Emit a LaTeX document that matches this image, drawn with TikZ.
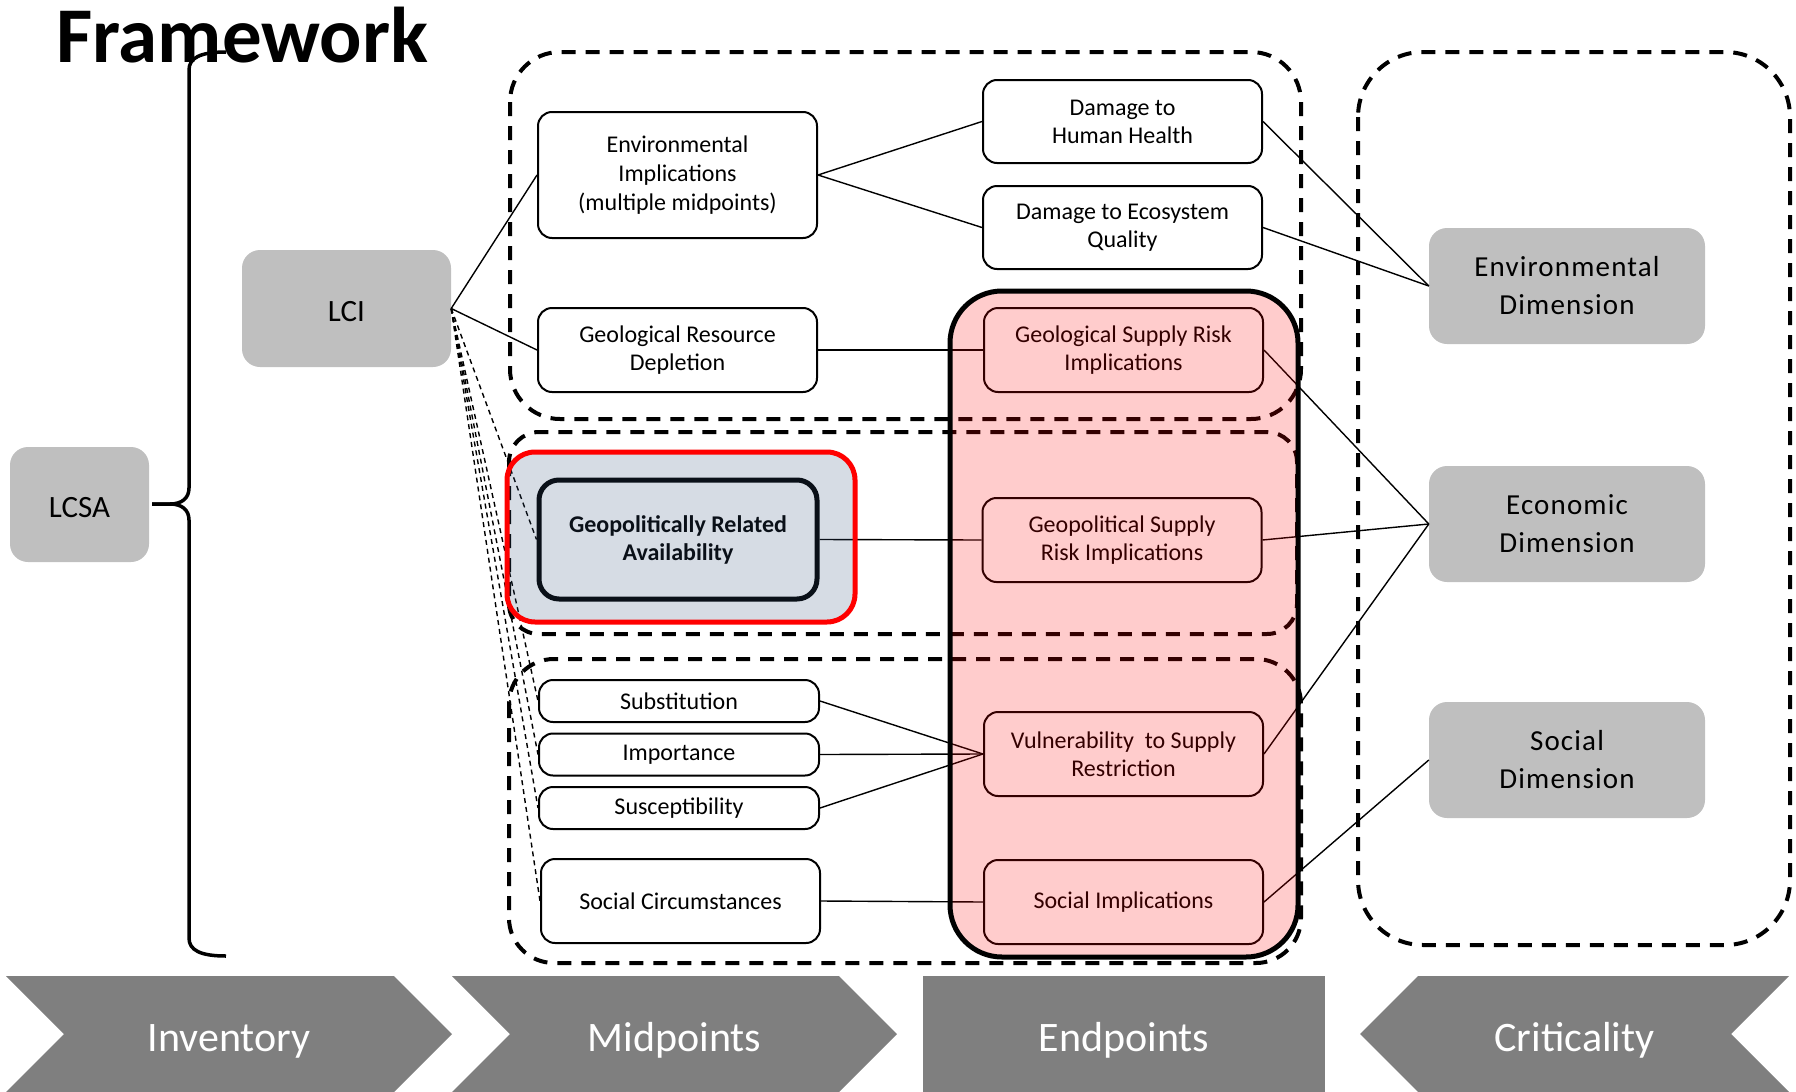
\documentclass[tikz,border=0pt]{standalone}
\usepackage{fontspec}
\setmainfont{Carlito}
\newfontfamily\dimfont[LetterSpace=4]{Carlito}
\usetikzlibrary{shapes.symbols}

\definecolor{boxgrey}{HTML}{BFBFBF}
\definecolor{stagegrey}{HTML}{7F7F7F}
\definecolor{geoshade}{HTML}{325078}

\begin{document}
\begin{tikzpicture}[x=1pt, y=-1pt,
  midbox/.style={draw, line width=2pt, rounded corners=14pt, fill=white, align=center,
    minimum width=279pt, inner sep=0pt, font=\fontsize{24}{28}\selectfont},
  greybox/.style={fill=boxgrey, rounded corners=18pt, align=center, inner sep=0pt},
  dimtext/.style={font=\dimfont\fontsize{29}{38}\selectfont},
  group/.style={line width=4pt, dash pattern=on 14pt off 10pt},
  link/.style={line width=1.4pt},
  dlink/.style={line width=1.4pt, dash pattern=on 5pt off 4pt},
  stage/.style={fill=stagegrey, text=white, minimum height=116pt, inner sep=0pt,
    text height=35pt, text depth=0pt, font=\fontsize{42}{50}\selectfont}
]
  \useasboundingbox (0,0) rectangle (1796,1092);

  % dashed groups
  \draw[group, rounded corners=50pt] (510,52) rectangle (1301,419);
  \draw[group, rounded corners=30pt] (509,432) rectangle (1297,634);
  \draw[group, rounded corners=45pt] (509,659) rectangle (1301,963);
  \draw[group, rounded corners=65pt] (1358,52) rectangle (1790,945);

  \node[anchor=base west, inner sep=0pt, font=\fontsize{79}{90}\selectfont\bfseries] (title) at (56,62) {Framework};

  % inventory
  \node[greybox, minimum width=139pt, minimum height=115pt, text height=25pt, text depth=0pt,
    font=\fontsize{31}{37}\selectfont] (lcsa) at (79.5,504.5) {LCSA};
  \node[greybox, minimum width=209pt, minimum height=117pt, text height=25pt, text depth=0pt,
    font=\fontsize{31}{37}\selectfont] (lci) at (346.5,308.5) {LCI};

  \draw[line width=3.5pt] (226,52) .. controls (200,52) and (189,58) .. (189,70) -- (189,488)
    .. controls (189,498) and (182,504) .. (170,504) -- (152,504);
  \draw[line width=3.5pt] (152,504) -- (170,504) .. controls (182,504) and (189,510) .. (189,520)
    -- (189,938) .. controls (189,950) and (200,956) .. (226,956);

  % midpoints
  \node[midbox, minimum height=126pt, font=\fontsize{24}{29}\selectfont] (envimp) at (677.5,175) {Environmental\\Implications\\(multiple midpoints)};
  \node[midbox, minimum height=84pt] (geores) at (677.5,350) {Geological Resource\\Depletion};
  \node[midbox, line width=5pt, rounded corners=20pt, minimum width=278pt, minimum height=119pt,
    font=\fontsize{24}{28}\selectfont\bfseries] (geopol) at (678,539.5) {Geopolitically Related\\Availability};
  \node[midbox, minimum width=280pt, minimum height=42pt] (subst) at (679,701) {Substitution};
  \node[midbox, minimum width=280pt, minimum height=42pt] (import) at (679,754.5) {Importance};
  \node[midbox, minimum width=280pt, minimum height=42pt] (suscep) at (679,808) {Susceptibility};
  \node[midbox, minimum height=84pt] (soccirc) at (680.5,901) {Social Circumstances};

  % endpoints
  \node[midbox, minimum height=83pt] (health) at (1122.5,121.5) {Damage to\\Human Health};
  \node[midbox, minimum height=83pt] (ecosys) at (1122.5,227.5) {Damage to Ecosystem\\Quality};
  \node[midbox, minimum height=84pt] (geosr) at (1123.5,350) {Geological Supply Risk\\Implications};
  \node[midbox, minimum height=84pt] (polsr) at (1122,540) {Geopolitical Supply\\Risk Implications};
  \node[midbox, minimum height=84pt] (vulner) at (1123.5,754) {Vulnerability\ \ to Supply\\Restriction};
  \node[midbox, minimum height=84pt] (socimp) at (1123.5,902) {Social Implications};

  % criticality
  \node[greybox, dimtext, minimum width=276pt, minimum height=116pt] (envdim) at (1567,286) {Environmental\\Dimension};
  \node[greybox, dimtext, minimum width=276pt, minimum height=116pt] (econdim) at (1567,524) {Economic\\Dimension};
  \node[greybox, dimtext, minimum width=276pt, minimum height=116pt] (socdim) at (1567,760) {Social\\Dimension};

  % links
  \draw[link] (lci.east) -- (envimp.west);
  \draw[link] (lci.east) -- (geores.west);
  \foreach \n in {geopol,subst,import,suscep,soccirc}
    \draw[dlink] (lci.east) -- (\n.west);
  \draw[link] (envimp.east) -- (health.west);
  \draw[link] (envimp.east) -- (ecosys.west);
  \draw[link] (geores.east) -- (geosr.west);
  \draw[link] (geopol.east) -- (polsr.west);
  \foreach \n in {subst,import,suscep}
    \draw[link] (\n.east) -- (vulner.west);
  \draw[link] (soccirc.east) -- (socimp.west);
  \draw[link] (health.east) -- (envdim.west);
  \draw[link] (ecosys.east) -- (envdim.west);
  \foreach \n in {geosr,polsr,vulner}
    \draw[link] (\n.east) -- (econdim.west);
  \draw[link] (socimp.east) -- (socdim.west);

  % highlights
  \draw[draw=red, line width=5pt, fill=geoshade, fill opacity=0.2, rounded corners=28pt] (507,452) rectangle (855,622);
  \draw[line width=5pt, fill=red, fill opacity=0.2, rounded corners=52pt] (950,291) rectangle (1298,957);

  % stages
  \node[stage, shape=signal, signal from=west, signal to=east, minimum width=446pt] (inv) at (229,1034) {Inventory};
  \node[stage, shape=signal, signal from=west, signal to=east, minimum width=445pt] (midp) at (674.5,1034) {Midpoints};
  \node[stage, minimum width=402pt] (endp) at (1124,1034) {Endpoints};
  \node[stage, shape=signal, signal from=east, signal to=west, minimum width=429pt] (crit) at (1574.5,1034) {Criticality};
\end{tikzpicture}
\end{document}
